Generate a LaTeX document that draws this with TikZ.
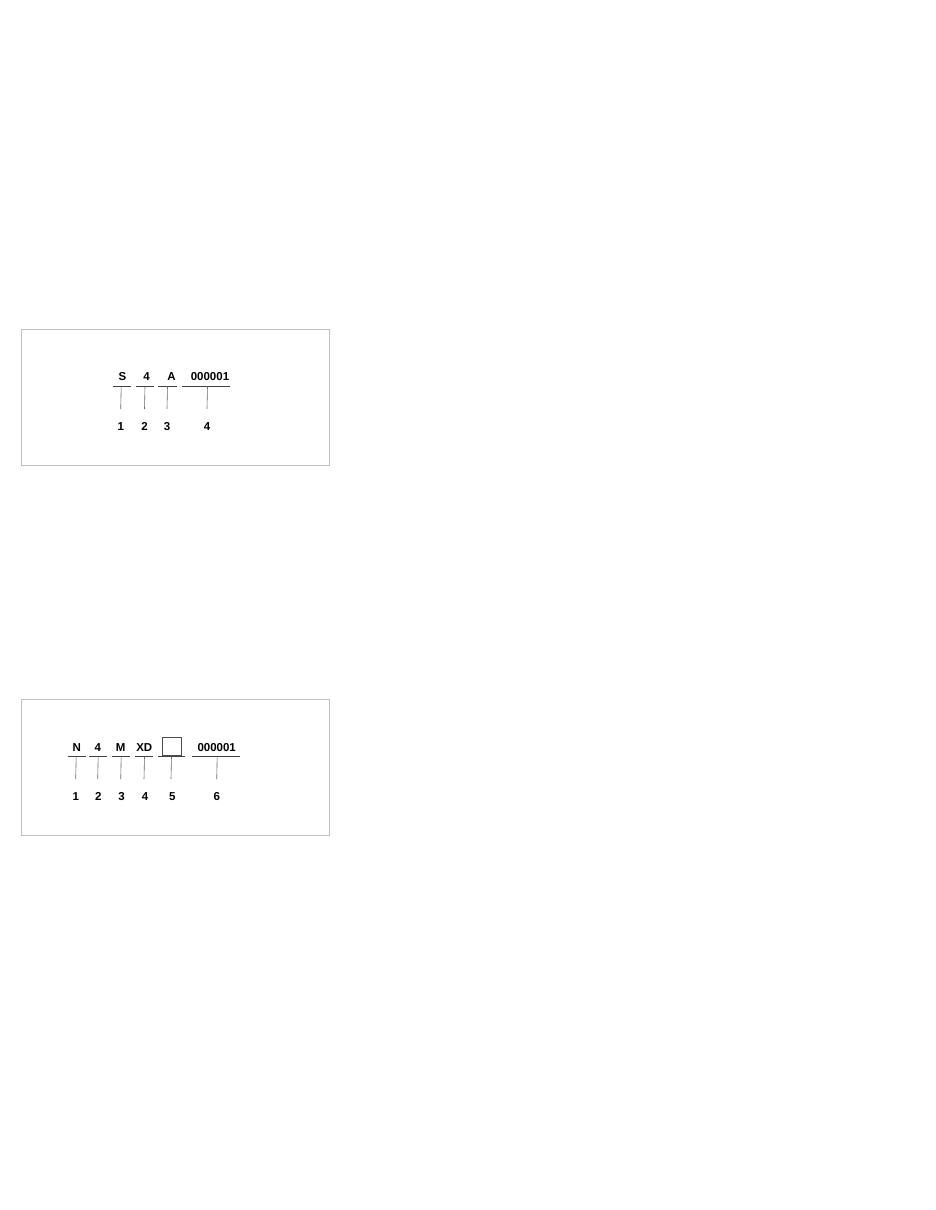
\documentclass[tikz,border=0pt]{standalone}
\usepackage{fontspec}
\setmainfont{Liberation Sans}
\begin{document}
\begin{tikzpicture}[x=1pt, y=-1pt,
    code/.style={font=\bfseries\fontsize{11.5}{13}\selectfont, inner sep=0pt},
    bar/.style={draw=black!75, line width=1.6pt},
    lead/.style={draw=black!60, line width=0.6pt},
    frame/.style={draw=black!25, line width=0.6pt}]
    \useasboundingbox[fill=white] (0,0) rectangle (935,1210);

    % upper plate
    \draw[frame] (21,329) rectangle (329,465);
    \foreach \t/\x/\a/\b/\nx/\n in {S/122.5/112.7/130.7/120.7/1, 4/146.5/136/154/144.5/2,
        A/171.5/158.3/176.7/167/3, 000001/210/182.3/230/207/4}
    {
        \node[code] (ta\n) at (\x,377) {\t};
        \coordinate (ua\n) at (\a,386.3);
        \coordinate (va\n) at (\b,386.3);
        \draw[bar] (ua\n) -- (va\n);
        \coordinate (la\n) at (\nx+0.5,386.3);
        \coordinate (ea\n) at (\nx,409);
        \draw[lead] (la\n) -- (ea\n);
        \node[code] (na\n) at (\nx,426.3) {\n};
    }

    % lower plate
    \draw[frame] (21,699) rectangle (329,835);
    \foreach \t/\x/\a/\b/\lx/\nx/\n in {N/76.7/67.7/85.7/75.7/75.7/1, 4/97.7/89.3/107.3/97.7/98.3/2,
        M/120.7/112.3/130.3/120.7/121.5/3, XD/144.3/134.7/152.7/144/145/4,
        {}/171.5/158.3/185.3/171/172.3/5, 000001/216.7/192.3/240/216.7/216.7/6}
    {
        \node[code] (tb\n) at (\x,747.3) {\t};
        \coordinate (ub\n) at (\a,756.3);
        \coordinate (vb\n) at (\b,756.3);
        \draw[bar] (ub\n) -- (vb\n);
        \coordinate (lb\n) at (\lx+0.5,756.3);
        \coordinate (eb\n) at (\lx,779);
        \draw[lead] (lb\n) -- (eb\n);
        \node[code] (nb\n) at (\nx,796.3) {\n};
    }
    \node[draw=black!70, line width=0.8pt, minimum width=19pt, minimum height=18pt,
        inner sep=0pt, anchor=south] (blank) at (171.5,755.5) {};
\end{tikzpicture}
\end{document}
